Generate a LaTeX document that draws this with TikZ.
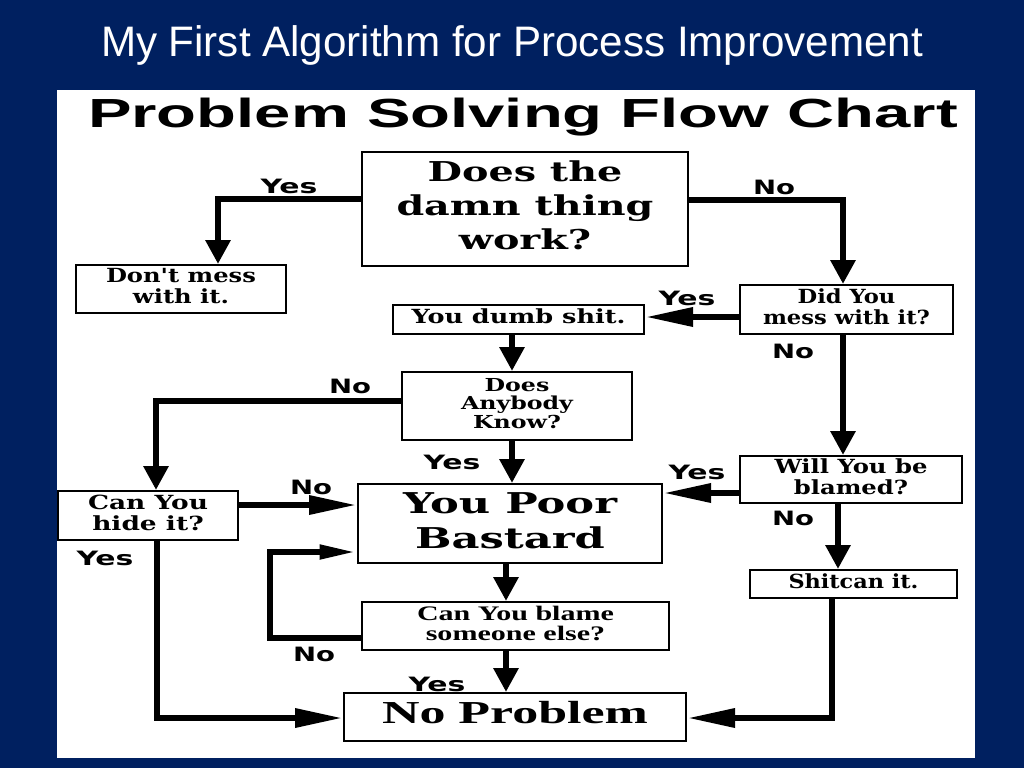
\documentclass[tikz,border=0pt]{standalone}
\usepackage{fontspec}
\usepackage{graphicx}
\setmainfont{Liberation Sans}
\newfontfamily\titlefont{Liberation Sans}
\newfontfamily\bxserif{DejaVu Serif}
\newfontfamily\bxtimes{Liberation Serif}
\newfontfamily\lblfont{DejaVu Sans}
\usetikzlibrary{arrows.meta}
\definecolor{navy}{RGB}{0,32,96}
\newsavebox\fitsave
% multi-line text stretched horizontally to a target width
\newcommand\fitw[3]{%
  \sbox\fitsave{#2\begin{tabular}{@{}c@{}}#3\end{tabular}}%
  \pgfmathsetmacro\fitfac{#1/\the\wd\fitsave}%
  \scalebox{\fitfac}[1]{\usebox\fitsave}}
% single-line text stretched horizontally to a target width
\newcommand\fith[3]{%
  \sbox\fitsave{#2#3}%
  \pgfmathsetmacro\fitfac{#1/\the\wd\fitsave}%
  \scalebox{\fitfac}[1]{\usebox\fitsave}}
\newcommand\bigser{\bxserif\bfseries\fontsize{20.5pt}{25.5pt}\selectfont}
\newcommand\smlser{\bxserif\bfseries\fontsize{14.6pt}{15pt}\selectfont}
\newcommand\tinser{\bxserif\bfseries\fontsize{13.4pt}{13.5pt}\selectfont}
\newcommand\lblf{\lblfont\bfseries\fontsize{14.8pt}{16pt}\selectfont}
\begin{document}
\begin{tikzpicture}[x=0.75pt,y=-0.75pt,
  fbox/.style={draw=black,line width=1.5pt,fill=white,inner sep=0pt,rectangle},
  conn/.style={line width=4.8pt,draw=black,line join=miter},
  va/.style={-{Triangle[length=18pt,width=18pt]}},
  ha/.style={-{Triangle[length=36pt,width=13.5pt]}},
  hs/.style={-{Triangle[length=28pt,width=10pt]}},
  lbl/.style={inner sep=0pt,text=black}]
\useasboundingbox (0,0) rectangle (1024,768);
\fill[navy] (0,0) rectangle (1024,768);
\fill[white] (57,90) rectangle (975,758);
\node[inner sep=0pt,text=white,anchor=base] (title) at (512,56)
  {\fith{822pt*0.75}{\titlefont\fontsize{32pt}{36pt}\selectfont}{My First Algorithm for Process Improvement}};
\node[inner sep=0pt,anchor=base] (head) at (523,127)
  {\fith{652.5pt}{\titlefont\bfseries\fontsize{30.5pt}{34pt}\selectfont}{Problem Solving Flow Chart}};
% boxes
\node[fbox,minimum width=244.5pt,minimum height=85.5pt] (b1) at (525,209)
  {\fitw{192.75pt}{\bigser}{Does the\\damn thing\\work?}};
\node[fbox,minimum width=157.5pt,minimum height=36pt] (b2) at (181,289)
  {\fitw{112.5pt}{\smlser}{Don't mess\\with it.}};
\node[fbox,minimum width=188.25pt,minimum height=21.75pt] (b3) at (518.5,319.5)
  {\fitw{160.5pt}{\smlser}{You dumb shit.}};
\node[fbox,minimum width=159.75pt,minimum height=36.75pt] (b4) at (846.5,309.5)
  {\fitw{125.25pt}{\smlser}{Did You\\mess with it?}};
\node[fbox,minimum width=172.5pt,minimum height=51pt] (b5) at (517,406)
  {\fitw{84pt}{\tinser}{Does\\Anybody\\Know?}};
\node[fbox,minimum width=135pt,minimum height=36.75pt] (b6) at (148,515.5)
  {\fitw{90pt}{\smlser}{Can You\\hide it?}};
\node[fbox,minimum width=228pt,minimum height=59.25pt] (b7) at (510,523.5)
  {\fitw{160.5pt}{\bxserif\bfseries\fontsize{21.5pt}{26.25pt}\selectfont}{You Poor\\Bastard}};
\node[fbox,minimum width=166.5pt,minimum height=35.25pt] (b8) at (851,479.5)
  {\fitw{114.75pt}{\smlser}{Will You be\\blamed?}};
\node[fbox,minimum width=155.25pt,minimum height=21pt] (b9) at (853.5,584)
  {\fitw{97.5pt}{\smlser}{Shitcan it.}};
\node[fbox,minimum width=230.25pt,minimum height=36pt] (b10) at (515.5,626)
  {\fitw{147.75pt}{\bxtimes\bfseries\fontsize{15.5pt}{15pt}\selectfont}{Can You blame\\someone else?}};
\node[fbox,minimum width=256.5pt,minimum height=36pt] (b11) at (515,717)
  {\fitw{199.5pt}{\bxtimes\bfseries\fontsize{24pt}{24pt}\selectfont}{No Problem}};
% connectors
\draw[conn,va] (b1.west |- 0,199) -| (b2.north -| 218,0);
\draw[conn,va] (b1.east |- 0,200) -| (b4.north -| 843,0);
\draw[conn,ha] (b4.west |- 0,317) -- (b3.east |- 0,317);
\draw[conn,va] (b3.south -| 512,0) -- (b5.north -| 512,0);
\draw[conn,va] (b5.west |- 0,401) -| (b6.north -| 156,0);
\draw[conn,va] (b5.south -| 512,0) -- (b7.north -| 512,0);
\draw[conn,va] (b4.south -| 843,0) -- (b8.north -| 843,0);
\draw[conn,ha] (b8.west |- 0,493) -- (b7.east |- 0,493);
\draw[conn,ha] (b6.east |- 0,505) -- (b7.west |- 0,505);
\draw[conn,va] (b8.south -| 838,0) -- (b9.north -| 838,0);
\draw[conn,va] (b7.south -| 506,0) -- (b10.north -| 506,0);
\draw[conn,hs] (b10.west |- 0,638) -| (270,595) |- (b7.west |- 0,552);
\draw[conn,va] (b10.south -| 506,0) -- (b11.north -| 506,0);
\draw[conn,ha] (b6.south -| 157,0) |- (b11.west |- 0,718);
\draw[conn,ha] (b9.south -| 832,0) |- (b11.east |- 0,718);
% labels
\node[lbl] (l1) at (289,186) {\fith{42.75pt}{\lblf}{Yes}};
\node[lbl] (l2) at (774,187) {\fith{31.5pt}{\lblf}{No}};
\node[lbl] (l3) at (687,298) {\fith{42.75pt}{\lblf}{Yes}};
\node[lbl] (l4) at (793,351) {\fith{31.5pt}{\lblf}{No}};
\node[lbl] (l5) at (350,386) {\fith{31.5pt}{\lblf}{No}};
\node[lbl] (l6) at (452,462) {\fith{42.75pt}{\lblf}{Yes}};
\node[lbl] (l7) at (697,472) {\fith{42.75pt}{\lblf}{Yes}};
\node[lbl] (l8) at (311,487) {\fith{31.5pt}{\lblf}{No}};
\node[lbl] (l9) at (793,518) {\fith{31.5pt}{\lblf}{No}};
\node[lbl] (l10) at (105,558) {\fith{42.75pt}{\lblf}{Yes}};
\node[lbl] (l11) at (314,654) {\fith{31.5pt}{\lblf}{No}};
\node[lbl] (l12) at (437,684) {\fith{42.75pt}{\lblf}{Yes}};
\end{tikzpicture}
\end{document}
